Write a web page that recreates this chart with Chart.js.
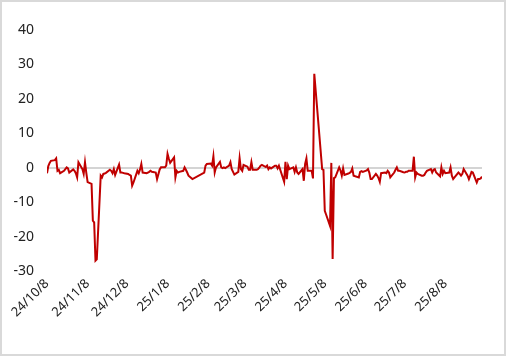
<!DOCTYPE html>
<html>
<head>
<meta charset="utf-8">
<script src="https://cdn.jsdelivr.net/npm/chart.js@4.4.0/dist/chart.umd.min.js"></script>
<style>
    html, body { margin: 0; padding: 0; background: #fff; }
    #wrap { position: relative; width: 506px; height: 356px; }
    #wrap canvas { position: absolute; left: 0; top: 0; }
    #frame { position: absolute; left: 0; top: 0; width: 506px; height: 356px; box-sizing: border-box; border: 2px solid #d9d9d9; pointer-events: none; }
</style>
</head>
<body>
<div id="wrap"><canvas id="chart" width="506" height="356"></canvas><div id="frame"></div></div>
<script>
// trading days, one line per month
const dates = [
    "2024-10-08", "2024-10-09", "2024-10-10", "2024-10-11", "2024-10-14", "2024-10-15", "2024-10-16", "2024-10-17", "2024-10-18", "2024-10-21", "2024-10-22", "2024-10-23", "2024-10-24", "2024-10-25", "2024-10-28", "2024-10-29", "2024-10-30", "2024-10-31",
    "2024-11-01", "2024-11-04", "2024-11-05", "2024-11-06", "2024-11-07", "2024-11-08", "2024-11-11", "2024-11-12", "2024-11-13", "2024-11-14", "2024-11-15", "2024-11-18", "2024-11-19", "2024-11-20", "2024-11-21", "2024-11-22", "2024-11-25", "2024-11-26", "2024-11-27", "2024-11-28", "2024-11-29",
    "2024-12-02", "2024-12-03", "2024-12-04", "2024-12-05", "2024-12-06", "2024-12-09", "2024-12-10", "2024-12-11", "2024-12-12", "2024-12-13", "2024-12-16", "2024-12-17", "2024-12-18", "2024-12-19", "2024-12-20", "2024-12-23", "2024-12-24", "2024-12-25", "2024-12-26", "2024-12-27", "2024-12-30", "2024-12-31",
    "2025-01-02", "2025-01-03", "2025-01-06", "2025-01-07", "2025-01-08", "2025-01-09", "2025-01-10", "2025-01-13", "2025-01-14", "2025-01-15", "2025-01-16", "2025-01-17", "2025-01-20", "2025-01-21", "2025-01-22", "2025-01-23", "2025-01-24", "2025-01-27",
    "2025-02-05", "2025-02-06", "2025-02-07", "2025-02-10", "2025-02-11", "2025-02-12", "2025-02-13", "2025-02-14", "2025-02-17", "2025-02-18", "2025-02-19", "2025-02-20", "2025-02-21", "2025-02-24", "2025-02-25", "2025-02-26", "2025-02-27", "2025-02-28",
    "2025-03-03", "2025-03-04", "2025-03-05", "2025-03-06", "2025-03-07", "2025-03-10", "2025-03-11", "2025-03-12", "2025-03-13", "2025-03-14", "2025-03-17", "2025-03-18", "2025-03-19", "2025-03-20", "2025-03-21", "2025-03-24", "2025-03-25", "2025-03-26", "2025-03-27", "2025-03-28", "2025-03-31",
    "2025-04-01", "2025-04-02", "2025-04-03", "2025-04-07", "2025-04-08", "2025-04-09", "2025-04-10", "2025-04-11", "2025-04-14", "2025-04-15", "2025-04-16", "2025-04-17", "2025-04-18", "2025-04-21", "2025-04-22", "2025-04-23", "2025-04-24", "2025-04-25", "2025-04-28", "2025-04-29", "2025-04-30",
    "2025-05-06", "2025-05-07", "2025-05-08", "2025-05-09", "2025-05-12", "2025-05-13", "2025-05-14", "2025-05-15", "2025-05-16", "2025-05-19", "2025-05-20", "2025-05-21", "2025-05-22", "2025-05-23", "2025-05-26", "2025-05-27", "2025-05-28", "2025-05-29", "2025-05-30",
    "2025-06-03", "2025-06-04", "2025-06-05", "2025-06-06", "2025-06-09", "2025-06-10", "2025-06-11", "2025-06-12", "2025-06-13", "2025-06-16", "2025-06-17", "2025-06-18", "2025-06-19", "2025-06-20", "2025-06-23", "2025-06-24", "2025-06-25", "2025-06-26", "2025-06-27", "2025-06-30",
    "2025-07-01", "2025-07-02", "2025-07-03", "2025-07-04", "2025-07-07", "2025-07-08", "2025-07-09", "2025-07-10", "2025-07-11", "2025-07-14", "2025-07-15", "2025-07-16", "2025-07-17", "2025-07-18", "2025-07-21", "2025-07-22", "2025-07-23", "2025-07-24", "2025-07-25", "2025-07-28", "2025-07-29", "2025-07-30", "2025-07-31",
    "2025-08-01", "2025-08-04", "2025-08-05", "2025-08-06", "2025-08-07", "2025-08-08", "2025-08-11", "2025-08-12", "2025-08-13", "2025-08-14", "2025-08-15", "2025-08-18", "2025-08-19", "2025-08-20", "2025-08-21", "2025-08-22", "2025-08-25", "2025-08-26", "2025-08-27", "2025-08-28", "2025-08-29",
    "2025-09-01", "2025-09-02", "2025-09-03", "2025-09-04", "2025-09-05",
];

const values = [
    -1.6, 0.5, 1.4, 2.0, 2.2, 2.7, -0.9, -0.6, -1.6, -0.9, -0.4, 0.1, -0.2, -1.4, -0.5, -0.9, -1.6, -2.8,
    1.6, -0.4, -1.8, 1.6, -1.5, -4.2, -4.7, -15.4, -15.9, -27.0, -26.6, -2.3, -2.8, -1.8, -1.7, -1.5, -0.6, -0.9, -1.6, -0.4, -2.1,
    0.9, -1.4, -1.4, -1.5, -1.6, -1.8, -2.1, -2.3, -5.2, -4.3, -0.9, -1.6, -0.5, 1.1, -1.4, -1.6, -1.4, -1.2, -0.9, -1.2, -1.4, -3.3,
    -0.5, 0.1, 0.1, 0.6, 4.0, 2.6, 1.4, 3.0, -2.8, -0.9, -1.4, -1.2, -0.9, 0.1, -0.6, -1.4, -2.3, -3.3,
    -1.4, 0.6, 1.1, 1.2, 0.6, 3.3, -1.4, 0.1, 1.7, 0.1, -0.1, 0.1, -0.1, 0.6, 1.6, -0.4, -1.2, -2.0,
    -1.2, 2.8, -0.4, -0.9, 0.8, 0.3, -0.6, -0.6, 1.6, -0.6, -0.6, -0.4, 0.0, 0.6, 0.8, 0.2, 0.6, -0.4, 0.1, -0.2, 0.6,
    0.6, -0.2, 0.6, -4.1, 1.7, -3.3, 0.6, -0.4, 0.1, -1.2, 0.1, -1.4, -1.8, -0.4, -3.8, 1.1, 2.7, -0.9, -0.9, -3.1, 27.3,
    -0.4, -0.6, -12.5, -13.6, -16.9, 1.4, -26.5, -3.0, -2.8, 0.1, -0.8, -2.3, -0.2, -2.1, -1.7, -1.5, -1.2, -0.2, -2.3,
    -2.8, -1.2, -1.0, -1.2, -0.8, -0.4, -1.4, -3.3, -3.3, -1.8, -2.3, -3.0, -4.1, -1.6, -1.4, -1.6, -0.9, -1.4, -2.8, -1.4,
    -0.6, 0.1, -0.9, -0.9, -1.3, -1.4, -1.2, -1.2, -0.9, -0.9, 3.2, -2.8, -1.4, -1.8, -2.3, -2.3, -2.1, -1.4, -0.9, -0.4, -1.4, -0.6, -0.4,
    -1.4, -2.5, 0.1, -1.8, -0.9, -1.6, -1.4, 0.1, -2.3, -3.3, -2.8, -1.4, -1.8, -2.3, -1.8, -0.4, -2.3, -3.3, -2.3, -1.2, -1.4,
    -4.3, -3.3, -3.3, -3.1, -2.6,
];

const tickDates = ["2024-10-08", "2024-11-08", "2024-12-08", "2025-01-08", "2025-02-08", "2025-03-08", "2025-04-08", "2025-05-08", "2025-06-08", "2025-07-08", "2025-08-08"];
const tickLabels = ["24/10/8", "24/11/8", "24/12/8", "25/1/8", "25/2/8", "25/3/8", "25/4/8", "25/5/8", "25/6/8", "25/7/8", "25/8/8"];
const yTicks = [-30, -20, -10, 0, 10, 20, 30, 40];

const startMs = Date.parse(dates[0]);
function dayOf(d) {
    return Math.round((Date.parse(d) - startMs) / 86400000);
}

const points = dates.map((d, i) => ({ x: dayOf(d), y: values[i] }));
const tickDays = tickDates.map(dayOf);
const lastDay = dayOf(dates[dates.length - 1]);

const family = "'Noto Sans', 'Open Sans', sans-serif";

new Chart(document.getElementById("chart"), {
    type: "line",
    data: {
        datasets: [
            {
                data: points,
                borderColor: "#c00000",
                borderWidth: 2,
                pointRadius: 0,
                tension: 0,
            },
        ],
    },
    options: {
        responsive: false,
        animation: false,
        devicePixelRatio: 1,
        layout: {
            padding: { top: 30, right: 24, left: 0, bottom: 0 },
        },
        plugins: {
            legend: { display: false },
            tooltip: { enabled: false },
        },
        scales: {
            x: {
                type: "linear",
                min: 0,
                max: lastDay,
                afterBuildTicks: (scale) => {
                    scale.ticks = tickDays.map((v) => ({ value: v }));
                },
                afterFit: (scale) => {
                    scale.height = 85;
                },
                grid: { display: false },
                border: { display: false },
                ticks: {
                    autoSkip: false,
                    minRotation: 45,
                    maxRotation: 45,
                    padding: -3,
                    color: "#222",
                    font: { family: family, size: 13 },
                    callback: (value, index) => tickLabels[index],
                },
            },
            y: {
                min: yTicks[0],
                max: yTicks[yTicks.length - 1],
                afterBuildTicks: (scale) => {
                    scale.ticks = yTicks.map((v) => ({ value: v }));
                },
                afterFit: (scale) => {
                    scale.width = 47;
                },
                grid: {
                    drawTicks: false,
                    lineWidth: 2,
                    color: (ctx) => (ctx.tick && ctx.tick.value === 0 ? "#d4d4d4" : "rgba(0,0,0,0)"),
                },
                border: { display: false },
                ticks: {
                    padding: 13,
                    color: "#222",
                    font: { family: family, size: 14 },
                },
            },
        },
    },
});
</script>
</body>
</html>
